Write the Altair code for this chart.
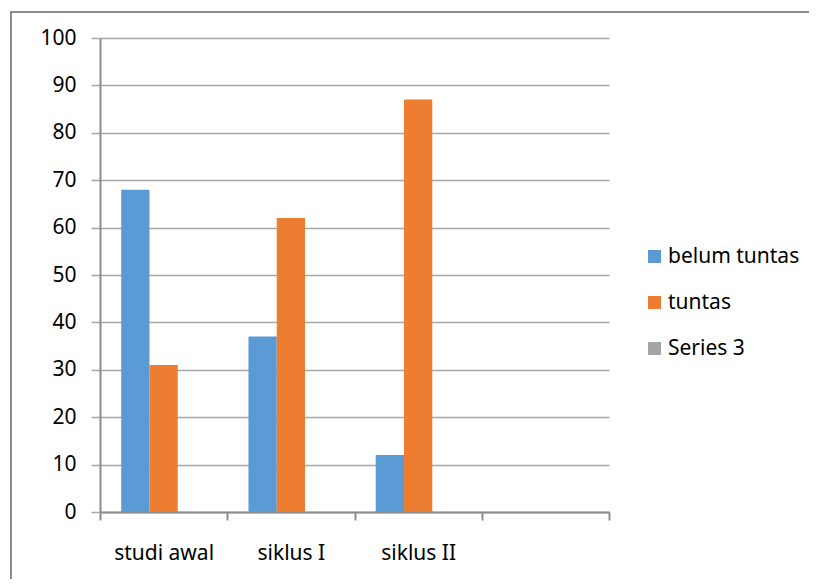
import altair as alt
import pandas as pd

categories = ["studi awal", "siklus I", "siklus II", ""]
series_names = ["belum tuntas", "tuntas", "Series 3"]
belum_tuntas = [68, 37, 12, None]
tuntas = [31, 62, 87, None]
series3 = [None, None, None, None]
colors = ["#5B9BD5", "#ED7D31", "#A5A5A5"]

rows = []
for name, vals in zip(series_names, [belum_tuntas, tuntas, series3]):
    for c, v in zip(categories, vals):
        if v is not None:
            rows.append({"kategori": c, "seri": name, "nilai": v})
df = pd.DataFrame(rows)

FONT = "Noto Sans"

bars = alt.Chart(df).mark_bar().encode(
    x=alt.X("kategori:N", sort=categories,
            scale=alt.Scale(domain=categories, paddingInner=0, paddingOuter=0),
            axis=alt.Axis(title=None, labelAngle=0, tickBand="extent", grid=False,
                          domainColor="#8c8c8c", domainWidth=2, tickColor="#8c8c8c",
                          tickWidth=2, tickSize=8, labelPadding=22,
                          labelFontSize=21, labelFont=FONT, labelColor="#000000")),
    xOffset=alt.XOffset("seri:N", sort=series_names,
                        scale=alt.Scale(domain=series_names, paddingInner=0, paddingOuter=0.75)),
    y=alt.Y("nilai:Q", scale=alt.Scale(domain=[0, 100], nice=False),
            axis=alt.Axis(title=None, values=list(range(0, 101, 10)), grid=True,
                          gridColor="#a6a6a6", gridWidth=1.5,
                          domainColor="#8c8c8c", domainWidth=2,
                          tickColor="#a6a6a6", tickWidth=1.5, tickSize=9, labelPadding=15,
                          labelFontSize=21, labelFont=FONT, labelColor="#000000")),
    color=alt.Color("seri:N", sort=series_names,
                    scale=alt.Scale(domain=series_names, range=colors),
                    legend=alt.Legend(title=None, orient="none", legendX=544, legendY=208,
                                      symbolType="square", symbolSize=169,
                                      symbolStrokeWidth=0, labelFontSize=21,
                                      labelFont=FONT, labelColor="#000000",
                                      labelOffset=3, rowPadding=24)),
)

border = alt.Chart(pd.DataFrame({"a": [0]})).mark_rect(
    fill="transparent", stroke="#8c8c8c", strokeWidth=2
).encode(
    x=alt.value(-89), x2=alt.value(760), y=alt.value(-26), y2=alt.value(600)
)

chart = alt.layer(border, bars).properties(
    width=509, height=474,
    autosize=alt.AutoSizeParams(type="none"),
    padding={"left": 92, "top": 30, "right": 200, "bottom": 67},
).configure_view(strokeWidth=0)

chart.save("out.html", embed_options={"renderer": "svg", "actions": False})
